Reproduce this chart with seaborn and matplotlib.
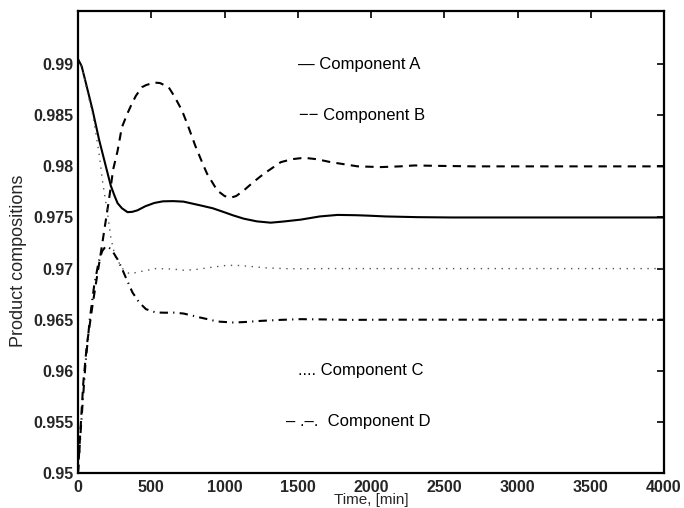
import matplotlib
matplotlib.use("Agg")
import matplotlib.pyplot as plt
import seaborn as sns
import pandas as pd

# ---- data ----
t_a = [0, 25, 53, 98, 144, 190, 224, 250, 270, 300, 338, 370, 406, 460, 521, 580, 650, 720,
       836, 920, 995, 1060, 1132, 1220, 1315, 1400, 1521, 1650, 1772, 1900, 1977, 2100, 2320,
       2548, 2800, 3200, 4000]
comp_a = [0.9905, 0.9898, 0.9882, 0.9856, 0.9826, 0.9800, 0.9781, 0.9771, 0.9764, 0.9759,
          0.97552, 0.97555, 0.9757, 0.9761, 0.97642, 0.97658, 0.9766, 0.97655, 0.97618, 0.9759,
          0.97553, 0.9752, 0.97488, 0.97462, 0.97449, 0.9746, 0.97479, 0.9751, 0.97525, 0.97522,
          0.97518, 0.9751, 0.97503, 0.975, 0.975, 0.975, 0.975]

t_b = [0, 15, 36, 60, 80, 100, 123, 150, 180, 212, 240, 270, 299, 338, 370, 395, 436, 464,
       521, 560, 619, 660, 710, 750, 801, 850, 881, 950, 1000, 1041, 1080, 1132, 1200, 1269,
       1384, 1460, 1543, 1630, 1726, 1820, 1909, 2068, 2200, 2297, 2450, 2700, 3200, 4000]
comp_b = [0.9500, 0.9538, 0.9588, 0.9625, 0.9645, 0.9665, 0.9686, 0.9710, 0.9738, 0.9768,
          0.9797, 0.9815, 0.9838, 0.9852, 0.9862, 0.9869, 0.98774, 0.98795, 0.98820, 0.98815,
          0.98774, 0.9868, 0.98546, 0.9840, 0.98200, 0.9803, 0.97928, 0.97765, 0.9771, 0.97693,
          0.9771, 0.97765, 0.9785, 0.97928, 0.98041, 0.9807, 0.98084, 0.9807, 0.98041, 0.9802,
          0.98000, 0.97993, 0.98000, 0.98009, 0.98005, 0.980, 0.980, 0.980]

t_c = [0, 30, 60, 98, 125, 146, 169, 201, 224, 253, 270, 304, 350, 400, 441, 532, 647, 721,
       800, 900, 1018, 1100, 1201, 1292, 1450, 1700, 4000]
comp_c = [0.9905, 0.9895, 0.9875, 0.9852, 0.9830, 0.9810, 0.9784, 0.9755, 0.9730, 0.9712,
          0.9708, 0.9700, 0.96950, 0.96962, 0.96975, 0.9700, 0.96995, 0.96984, 0.9699, 0.9701,
          0.97032, 0.9703, 0.97018, 0.97006, 0.96998, 0.970, 0.970]

t_d = [0, 20, 50, 80, 110, 140, 165, 190, 215, 240, 270, 300, 327, 372, 418, 464, 532, 600,
       647, 721, 780, 834, 900, 950, 1064, 1150, 1245, 1380, 1519, 1700, 1861, 2100, 4000]
comp_d = [0.9500, 0.9545, 0.9605, 0.9650, 0.9683, 0.9706, 0.9717, 0.9722, 0.9720, 0.9716,
          0.9709, 0.9700, 0.9691, 0.96766, 0.96668, 0.96603, 0.9657, 0.96568, 0.9657, 0.9656,
          0.9654, 0.96521, 0.9650, 0.96482, 0.96472, 0.96478, 0.96488, 0.96498, 0.96505,
          0.96502, 0.96498, 0.965, 0.965]

labels = ["\u2014 Component A", "\u2212\u2212 Component B", ".... Component C", "\u2013 .\u2013.  Component D"]
label_x = [1500, 1510, 1500, 1420]
label_y = [0.990, 0.985, 0.960, 0.955]

x_ticks = [0, 500, 1000, 1500, 2000, 2500, 3000, 3500, 4000]
y_ticks = [0.95, 0.955, 0.96, 0.965, 0.97, 0.975, 0.98, 0.985, 0.99]
y_tick_labels = ["0.95", "0.955", "0.96", "0.965", "0.97", "0.975", "0.98", "0.985", "0.99"]

# ---- style ----
sns.set_style("white")
plt.rcParams["font.family"] = ["Liberation Sans", "DejaVu Sans"]

fig = plt.figure(figsize=(6.84, 5.08), dpi=100)
ax = fig.add_axes([78 / 684, 35 / 508, 586 / 684, 462 / 508])

series = [
    (t_a, comp_a, None, "black", 1.5),
    (t_b, comp_b, (4, 3), "black", 1.5),
    (t_c, comp_c, (1, 4), "#555555", 1.0),
    (t_d, comp_d, (4, 2.5, 0.6, 2.5), "black", 1.5),
]
for t, v, dash, col, lw in series:
    df = pd.DataFrame({"t": t, "v": v})
    sns.lineplot(data=df, x="t", y="v", ax=ax, color=col, linewidth=lw,
                 estimator=None, sort=False)
    line = ax.lines[-1]
    if dash is not None:
        line.set_dashes(dash)
    line.set_dash_capstyle("butt")

for lab, lx, ly in zip(labels, label_x, label_y):
    ax.text(lx, ly, lab, fontsize=12, va="center", ha="left", color="black")

ax.set_xlim(0, 4000)
ax.set_ylim(0.95, 0.9952)
ax.set_xticks(x_ticks)
ax.set_xticklabels([str(x) for x in x_ticks])
ax.set_yticks(y_ticks)
ax.set_yticklabels(y_tick_labels)
ax.tick_params(direction="in", length=5, width=1.2, top=True, right=True,
               labelsize=11.5, color="black")
ax.tick_params(axis="x", pad=5)
ax.tick_params(axis="y", pad=3.5)
for lab in ax.get_xticklabels() + ax.get_yticklabels():
    lab.set_fontweight("bold")
for sp in ax.spines.values():
    sp.set_visible(True)
    sp.set_linewidth(1.6)
    sp.set_color("black")

ax.set_xlabel("Time, [min]", fontsize=11)
ax.xaxis.label.set_va("baseline")
ax.xaxis.set_label_coords(0.5, -0.068)
ax.set_ylabel("Product compositions", fontsize=13)
ax.yaxis.label.set_va("center")
ax.yaxis.set_label_coords(-0.101, 0.46)

fig.savefig("out.png", dpi=100)
